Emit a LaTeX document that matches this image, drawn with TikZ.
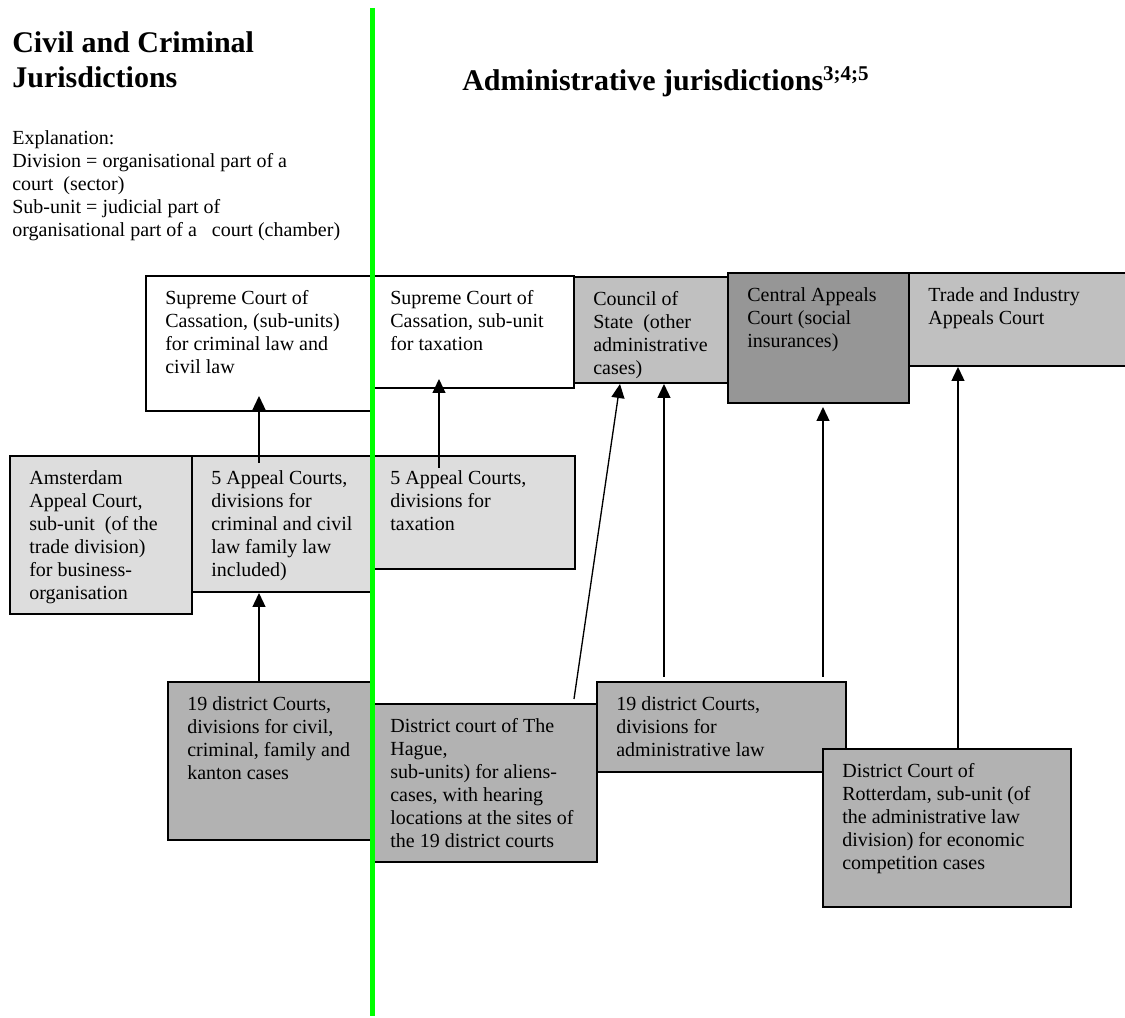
\documentclass[tikz,border=0pt]{standalone}
\usepackage{fontspec}
\setmainfont{Liberation Serif}
\usetikzlibrary{arrows.meta,calc}
\definecolor{lgray}{HTML}{DDDDDD}
\definecolor{mgray}{HTML}{C0C0C0}
\definecolor{dgray}{HTML}{969696}
\definecolor{bgray}{HTML}{B2B2B2}
\definecolor{vgreen}{HTML}{00FF00}
\newcommand\courtbox[7]{%
  \node[cbox, fill=#6, minimum width={(#4-#2)*0.6pt}, minimum height={(#5-#3)*0.6pt}] (#1) at (#2,#3) {};
  \node[btext] (#1t) at (#2+19,#3+12) {\strut #7};}
\begin{document}
\begin{tikzpicture}[x=0.6pt,y=-0.6pt,
  cbox/.style={draw=black, line width=1pt, anchor=north west, inner sep=0pt, outer sep=0pt},
  btext/.style={anchor=north west, inner sep=0pt, align=left, font=\fontsize{12}{13.8}\selectfont},
  arr/.style={line width=0.8pt, -{Triangle[length=8.4pt,width=7.8pt]}}]
\useasboundingbox (0,0) rectangle (1125,1018);

% titles
\node[anchor=north west, inner sep=0pt, align=left, font=\fontsize{18}{21}\selectfont\bfseries] (title1) at (12,28) {\strut Civil and Criminal\\Jurisdictions};
\node[anchor=base west, inner sep=0pt, font=\fontsize{18}{21}\selectfont\bfseries] (title2) at (462,91) {Administrative jurisdictions\textsuperscript{3;4;5}};
\node[btext] (expl) at (12,128) {\strut Explanation:\\Division = organisational part of a\\court\ \ (sector)\\Sub-unit = judicial part of\\organisational part of a\ \ \ court (chamber)};

% top row
\courtbox{sc1}{146}{276}{371}{411}{white}{Supreme Court of\\Cassation, (sub-units)\\for criminal law and\\civil law}
\courtbox{sc2}{371}{276}{574}{388}{white}{Supreme Court of\\Cassation, sub-unit\\for taxation}
\courtbox{council}{574}{277}{728}{383}{mgray}{Council of\\State\ \ (other\\administrative\\cases)}
\courtbox{trade}{909}{273}{1128}{366}{mgray}{Trade and Industry\\Appeals Court}
\courtbox{central}{728}{273}{909}{403}{dgray}{Central Appeals\\Court (social\\insurances)}

% middle row
\courtbox{ams}{10}{456}{192}{614}{lgray}{Amsterdam\\Appeal Court,\\sub-unit\ \ (of the\\trade division)\\for business-\\organisation}
\courtbox{ac1}{192}{456}{371}{592}{lgray}{5 Appeal Courts,\\divisions for\\criminal and civil\\law family law\\included)}
\courtbox{tax5}{371}{456}{575}{569}{lgray}{5 Appeal Courts,\\divisions for\\taxation}

% bottom row
\courtbox{civ19}{168}{682}{371}{840}{bgray}{19 district Courts,\\divisions for civil,\\criminal, family and\\kanton cases}
\courtbox{hague}{371}{704}{597}{862}{bgray}{District court of The\\Hague,\\sub-units) for aliens-\\cases, with hearing\\locations at the sites of\\the 19 district courts}
\courtbox{adm19}{597}{682}{846}{772}{bgray}{19 district Courts,\\divisions for\\administrative law}
\courtbox{rot}{823}{749}{1071}{907}{bgray}{District Court of\\Rotterdam, sub-unit (of\\the administrative law\\division) for economic\\competition cases}

% connectors
\draw[arr] ($(ac1.north west)+(67,7)$) -- ($(sc1.south west)+(113,-15)$);
\draw[arr] ($(civ19.north west)+(91,0)$) -- ($(ac1.south west)+(67,1)$);
\draw[arr] ($(tax5.north west)+(68,12)$) -- ($(sc2.south west)+(68,-9)$);
\draw[arr] ($(hague.north west)+(203,-5)$) -- ($(council.south west)+(46,1)$);
\draw[arr] ($(adm19.north west)+(67,-5)$) -- ($(council.south west)+(90,1)$);
\draw[arr] ($(adm19.north west)+(226,-5)$) -- ($(central.south west)+(95,4)$);
\draw[arr] ($(rot.north west)+(135,0)$) -- ($(trade.south west)+(49,1)$);

% divider
\draw[vgreen, line width=3pt] (372,8) -- (372,1016);
\end{tikzpicture}
\end{document}
